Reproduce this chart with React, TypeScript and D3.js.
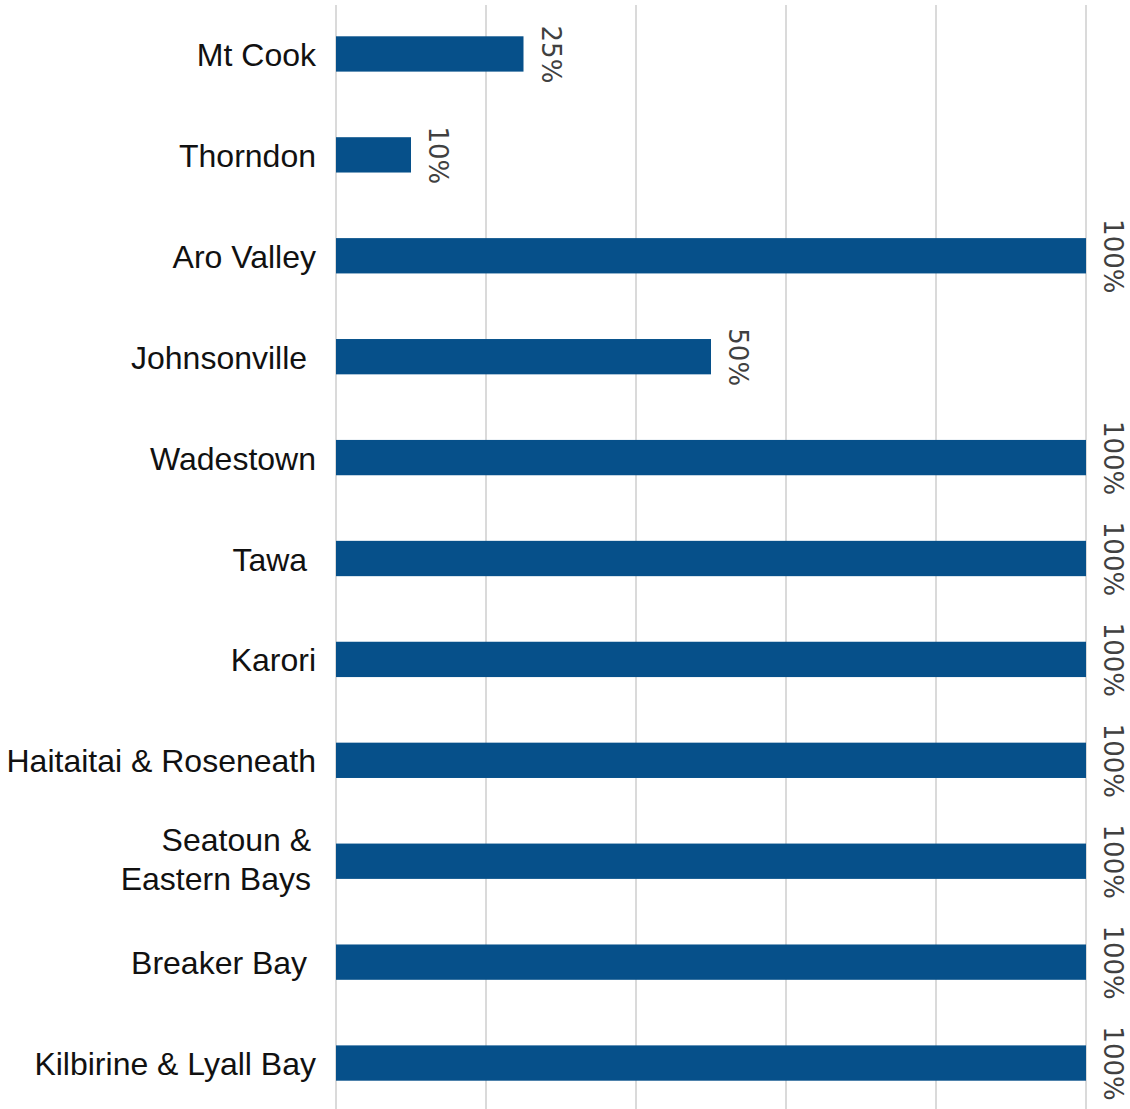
import React from "react";
import * as d3 from "d3";

const categories: string[][] = [
  ["Mt Cook"],
  ["Thorndon"],
  ["Aro Valley"],
  ["Johnsonville "],
  ["Wadestown"],
  ["Tawa "],
  ["Karori"],
  ["Haitaitai & Roseneath"],
  ["Seatoun &", "Eastern Bays"],
  ["Breaker Bay "],
  ["Kilbirine & Lyall Bay"],
];
const keys: string[] = categories.map((c) => c.join(" "));
const values: number[] = [25, 10, 100, 50, 100, 100, 100, 100, 100, 100, 100];
const gridTicks: number[] = [0, 20, 40, 60, 80, 100];

const W = 1130;
const H = 1109;

export default function App() {
  const x = d3.scaleLinear().domain([0, 100]).range([336, 1086]);
  const y = d3
    .scaleBand<string>()
    .domain(keys)
    .range([3.5, 1113.5])
    .paddingInner(0.65)
    .paddingOuter(0.325);
  const bw = y.bandwidth();

  return (
    <div style={{ position: "absolute", left: 0, top: 0 }}>
      <svg width={W} height={H} style={{ display: "block" }}>
        <rect width={W} height={H} fill="#ffffff" />
        {gridTicks.map((t) => (
          <line
            key={t}
            x1={x(t)}
            x2={x(t)}
            y1={5}
            y2={H}
            stroke="#dadada"
            strokeWidth={2}
          />
        ))}
        {keys.map((k, i) => {
          const y0 = y(k) as number;
          const cy = y0 + bw / 2;
          const lines = categories[i];
          return (
            <g key={k}>
              <rect
                x={x(0)}
                y={y0}
                width={x(values[i]) - x(0)}
                height={bw}
                fill="#06508a"
              />
              <text
                transform={`translate(${x(values[i]) + 18},${cy + 0.5}) rotate(90)`}
                textAnchor="middle"
                fontFamily="DejaVu Sans"
                fontSize={26}
                fill="#404040"
              >
                {values[i] + "%"}
              </text>
              {lines.length === 1 ? (
                <text
                  x={316}
                  y={cy + 12}
                  textAnchor="end"
                  fontFamily="Liberation Sans, Arial, sans-serif"
                  fontSize={32}
                  fill="#111111"
                  style={{ whiteSpace: "pre" }}
                >
                  {lines[0]}
                </text>
              ) : (
                lines.map((ln, j) => (
                  <text
                    key={ln}
                    x={311}
                    y={cy - 10 + j * 39}
                    textAnchor="end"
                    fontFamily="Liberation Sans, Arial, sans-serif"
                    fontSize={32}
                    fill="#111111"
                    style={{ whiteSpace: "pre" }}
                  >
                    {ln}
                  </text>
                ))
              )}
            </g>
          );
        })}
      </svg>
    </div>
  );
}
